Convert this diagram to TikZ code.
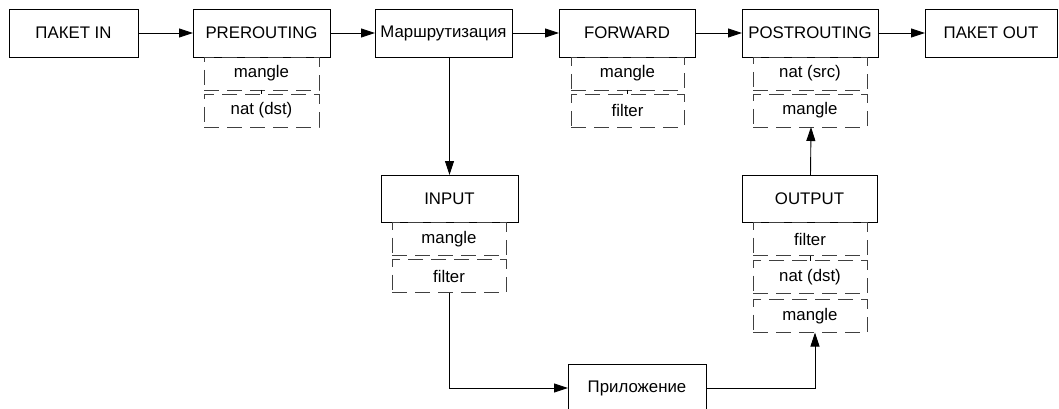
\documentclass[tikz,border=0pt]{standalone}
\usepackage{fontspec}
\setmainfont{Liberation Sans}
\usetikzlibrary{arrows.meta}
\begin{document}
\begin{tikzpicture}[x=1pt,y=-1pt,
  every node/.style={font=\fontsize{16.8}{19}\selectfont, inner sep=0pt, outer sep=0pt},
  mainbox/.style={draw=black, line width=0.9pt, fill=white, minimum height=48pt},
  subbox/.style={draw=black!75, line width=0.9pt, dash pattern=on 15pt off 8pt, minimum width=114pt, minimum height=33pt},
  conn/.style={line width=0.9pt, -{Triangle[length=14pt,width=9pt]}},
  tick/.style={line width=0.6pt}]
\useasboundingbox (0,0) rectangle (1059,409);
% top row
\node[mainbox, minimum width=129pt] (pin)  at (73.5,33) {ПАКЕТ IN};
\node[mainbox, minimum width=137pt] (pre)  at (261.5,33) {PREROUTING};
\node[mainbox, minimum width=137pt] (route) at (443.5,33) {Маршрутизация};
\node[mainbox, minimum width=136pt] (fwd)  at (627,33) {FORWARD};
\node[mainbox, minimum width=136pt] (post) at (810,33) {POSTROUTING};
\node[mainbox, minimum width=132pt] (pout) at (991,33) {ПАКЕТ OUT};
% sub tables
\node[subbox, minimum width=115pt] (prem) at (261.5,73.5) {mangle};
\node[subbox, minimum width=115pt] (pren) at (261.5,110.5) {nat (dst)};
\node[subbox, minimum width=113pt] (fwdm) at (627.5,73.5) {mangle};
\node[subbox, minimum width=113pt] (fwdf) at (627.5,110.5) {filter};
\node[subbox] (postn) at (810,73.5) {nat (src)};
\node[subbox] (postm) at (810,110.5) {mangle};
% input
\node[mainbox, minimum width=137pt, minimum height=47pt] (in) at (449.5,198.5) {INPUT};
\node[subbox] (inm) at (449,239) {mangle};
\node[subbox] (inf) at (449,276) {filter};
% output
\node[mainbox, minimum width=135pt, minimum height=47pt] (out) at (809.5,198.5) {OUTPUT};
\node[subbox] (outf) at (810,239) {filter};
\node[subbox] (outn) at (810,277) {nat (dst)};
\node[subbox] (outm) at (810,316) {mangle};
% application
\node[mainbox, minimum width=138pt] (app) at (637,388) {Приложение};
% connectors
\draw[conn] (pin.east) -- (pre.west);
\draw[conn] (pre.east) -- (route.west);
\draw[conn] (route.east) -- (fwd.west);
\draw[conn] (fwd.east) -- (post.west);
\draw[conn] (post.east) -- (pout.west);
\draw[conn] (route.south -| in.north) -- (in.north);
\draw[conn] (inf.south) |- (app.west);
\coordinate (outin) at ([xshift=5pt]outm.south);
\draw[conn] (app.east) -| (outin);
\draw[conn] ([xshift=1pt]out.north) -- ([xshift=1pt]postm.south);
% small ticks between stacked tables
\draw[tick] (prem.south) -- (pren.north);
\draw[tick] (fwdm.south) -- (fwdf.north);
\draw[tick] (outf.south) -- (outn.north);
\end{tikzpicture}
\end{document}
